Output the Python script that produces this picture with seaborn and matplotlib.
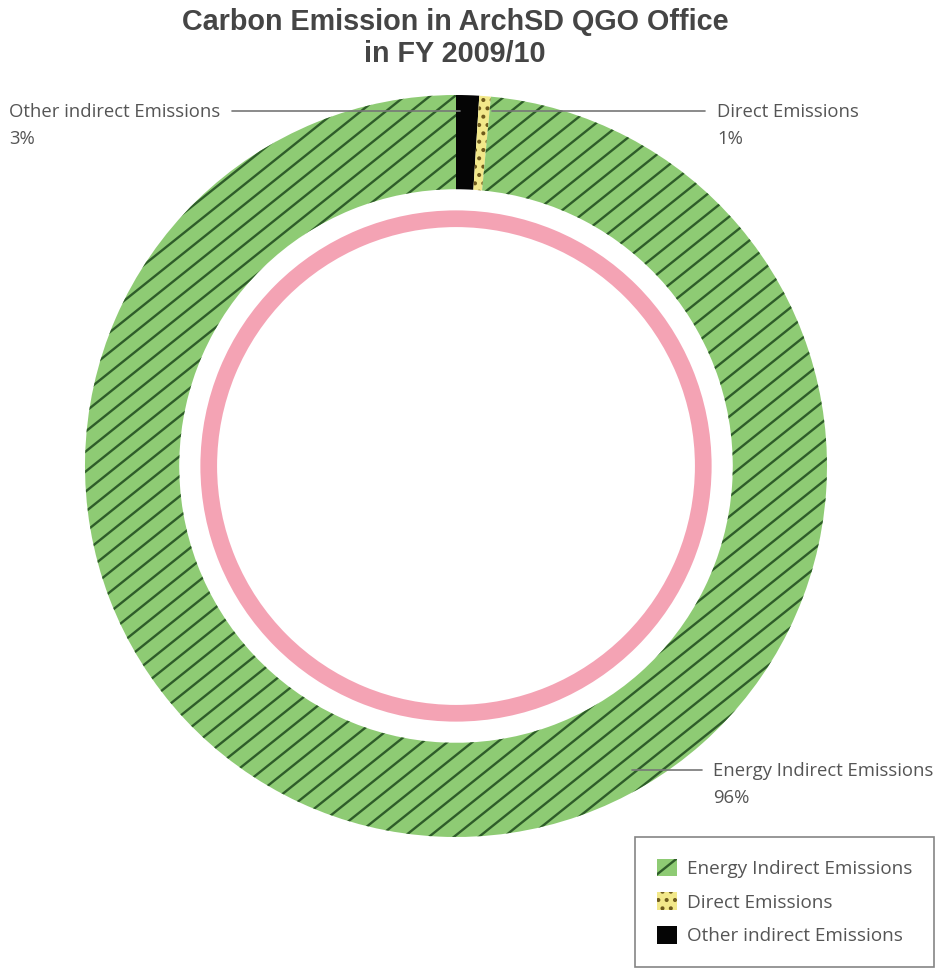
import matplotlib
matplotlib.use("Agg")
import matplotlib.pyplot as plt
import matplotlib.hatch as mhatch
from matplotlib.path import Path
import numpy as np
import seaborn as sns
import pandas as pd

# ---- data -------------------------------------------------------------
categories = ["Other indirect Emissions", "Direct Emissions", "Energy Indirect Emissions"]
label_pct = ["3%", "1%", "96%"]
# wedge shares as drawn in the picture (clockwise from 12 o'clock)
drawn_share = [1.0, 0.5, 98.5]
legend_order = ["Energy Indirect Emissions", "Direct Emissions", "Other indirect Emissions"]
title_text = "Carbon Emission in ArchSD QGO Office\nin FY 2009/10"

df = pd.DataFrame({"category": categories, "share": drawn_share, "pct": label_pct})


# ---- shallower diagonal hatch for '/' (slope 4/5, periodic in the tile) ----
class SlantHatch(mhatch.HatchPatternBase):
    def __init__(self, hatch, density):
        n = hatch.count("/")
        self.offsets = np.arange(-6, 8) / 5.0 if n else np.array([])
        self.num_vertices = 2 * len(self.offsets)

    def set_vertices_and_codes(self, vertices, codes):
        slope = 4.0 / 5.0
        x0, x1 = -0.3, 1.3
        vertices[0::2, 0] = x0
        vertices[0::2, 1] = slope * x0 + self.offsets
        vertices[1::2, 0] = x1
        vertices[1::2, 1] = slope * x1 + self.offsets
        codes[0::2] = Path.MOVETO
        codes[1::2] = Path.LINETO


mhatch._hatch_types = [SlantHatch if t is mhatch.NorthEastHatch else t
                       for t in mhatch._hatch_types]

sns.set_theme(style="white")
plt.rcParams["font.family"] = ["Open Sans", "DejaVu Sans"]
plt.rcParams["hatch.linewidth"] = 1.7

W, H = 944, 968
fig = plt.figure(figsize=(W / 100, H / 100), dpi=100)
fig.patch.set_facecolor("white")

cx, cy, R = 456, 466, 371
ax = fig.add_axes([(cx - R) / W, (H - cy - R) / H, 2 * R / W, 2 * R / H])

faces = {"Other indirect Emissions": "#050505",
         "Direct Emissions": "#f2e88a",
         "Energy Indirect Emissions": "#8ecb74"}
edges = {"Other indirect Emissions": "#050505",
         "Direct Emissions": "#6e5a1c",
         "Energy Indirect Emissions": "#2f5d2a"}
hatches = {"Other indirect Emissions": None,
           "Direct Emissions": "..",
           "Energy Indirect Emissions": "/"}

wedges, _ = ax.pie(df["share"], startangle=90, counterclock=False, radius=1.0,
                   colors=[faces[c] for c in df["category"]],
                   wedgeprops=dict(width=0.254, linewidth=0))
for w, c in zip(wedges, df["category"]):
    w.set_edgecolor(edges[c])
    w.set_linewidth(0)
    if hatches[c]:
        w.set_hatch(hatches[c])

# inner pink ring
ax.pie([1], radius=0.689, colors=["#f4a3b4"], startangle=90,
       wedgeprops=dict(width=0.045, linewidth=0))

ax.set_xlim(-1, 1)
ax.set_ylim(-1, 1)
ax.set_aspect("auto")
ax.axis("off")


def fx(x):
    return x / W


def fy(y):
    return 1 - y / H


txt_color = "#555555"
line_color = "#777777"
fs = 13.3

fig.text(fx(455), fy(38), title_text, ha="center", va="center",
         fontsize=20.7, fontweight="bold", color="#454545",
         family=["Liberation Sans", "DejaVu Sans"], linespacing=1.15)

lab = dict(zip(df["category"], df["pct"]))
fig.text(fx(9), fy(103), "Other indirect Emissions\n" + lab["Other indirect Emissions"],
         ha="left", va="top", fontsize=fs, color=txt_color, linespacing=1.62)
fig.add_artist(plt.Line2D([fx(232), fx(460)], [fy(111), fy(111)], color=line_color, lw=1.2))

fig.text(fx(717), fy(103), "Direct Emissions\n" + lab["Direct Emissions"],
         ha="left", va="top", fontsize=fs, color=txt_color, linespacing=1.62)
fig.add_artist(plt.Line2D([fx(492), fx(705)], [fy(111), fy(111)], color=line_color, lw=1.2))

fig.text(fx(713), fy(762), "Energy Indirect Emissions\n" + lab["Energy Indirect Emissions"],
         ha="left", va="top", fontsize=fs, color=txt_color, linespacing=1.62)
fig.add_artist(plt.Line2D([fx(632), fx(702)], [fy(770), fy(770)], color=line_color, lw=1.2))

# legend
handle_map = dict(zip(df["category"], wedges))
lfs = 13.6
leg = fig.legend([handle_map[c] for c in legend_order], legend_order,
                 loc="upper left", bbox_to_anchor=(fx(635), fy(837)),
                 frameon=True, fancybox=False, fontsize=lfs, labelcolor=txt_color,
                 handlelength=1.07, handleheight=1.07, handletextpad=0.55,
                 borderpad=1.15, labelspacing=0.76, borderaxespad=0)
leg.get_frame().set_edgecolor("#666666")
leg.get_frame().set_linewidth(1.2)

fig.savefig("out.png", dpi=100, facecolor="white")
